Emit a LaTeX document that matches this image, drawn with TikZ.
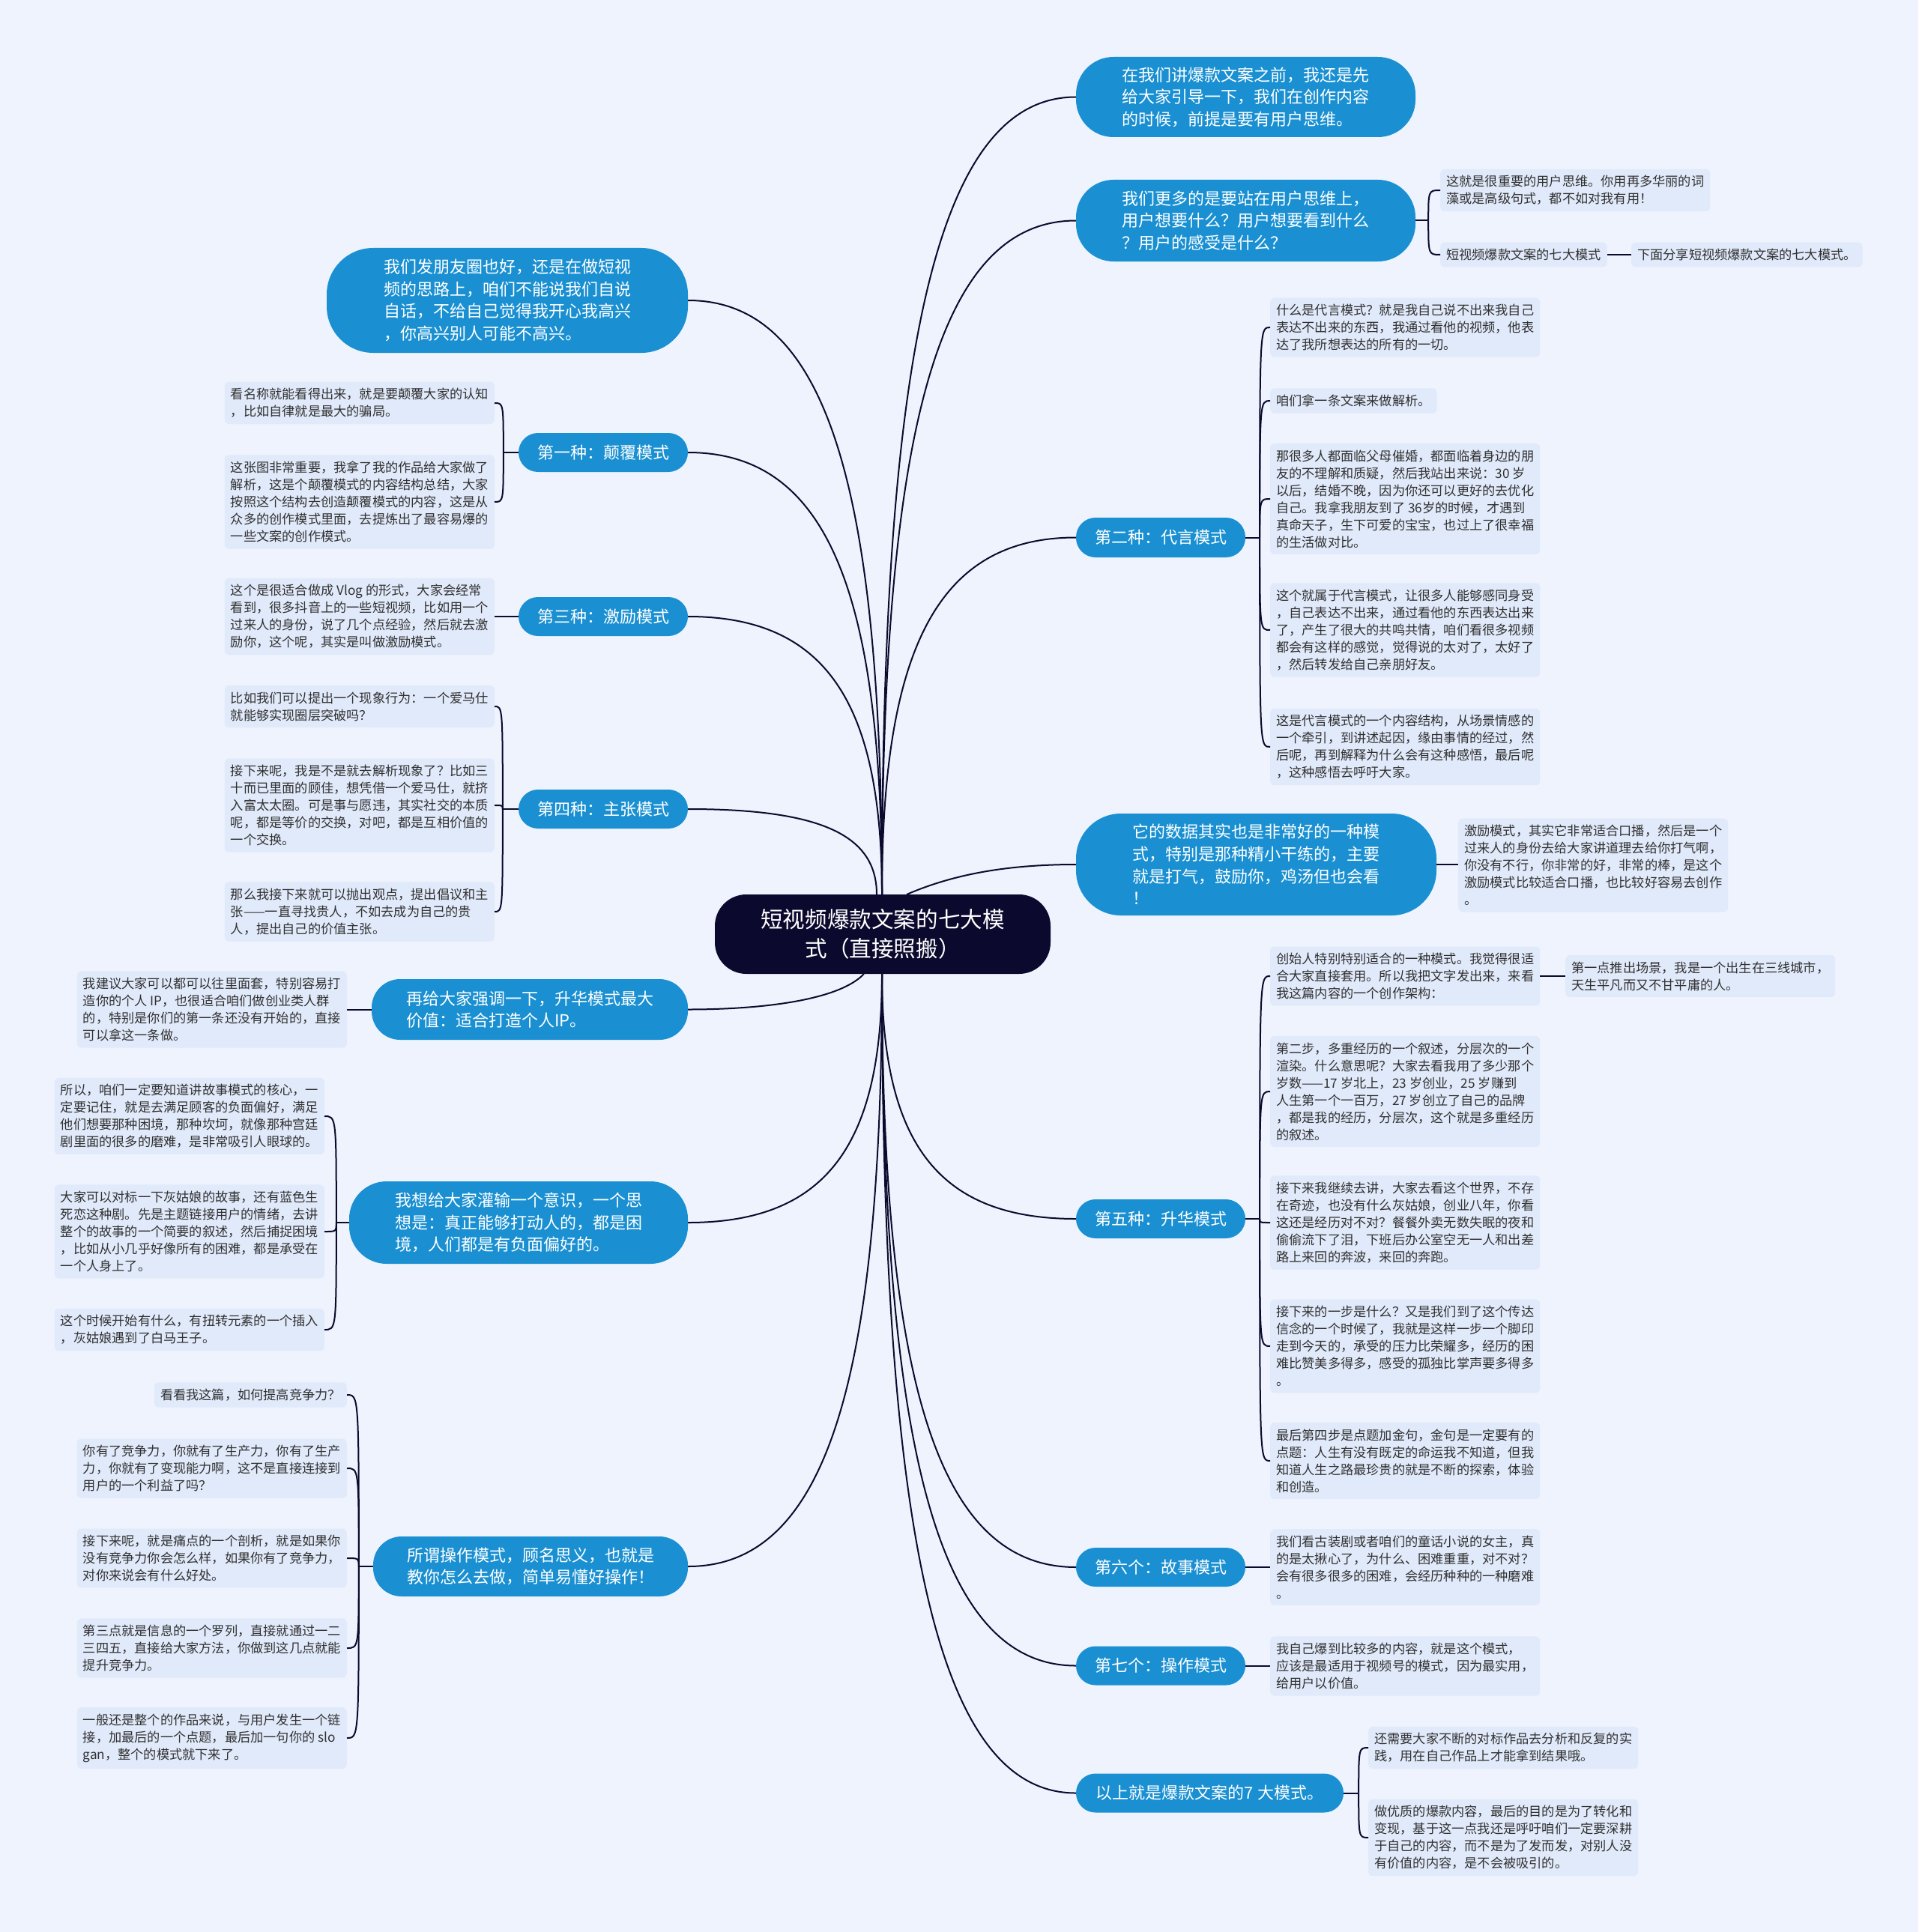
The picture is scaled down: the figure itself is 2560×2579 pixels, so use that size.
\documentclass[tikz,border=0pt]{standalone}
\usepackage{fontspec}
\setmainfont{Noto Sans CJK SC}
\usetikzlibrary{calc}
\definecolor{bgc}{HTML}{EEF3FD}
\definecolor{leaffill}{HTML}{E1EAFA}
\definecolor{mainblue}{HTML}{1A90D2}
\definecolor{navy}{HTML}{0B0A2E}
\definecolor{leaftext}{HTML}{303030}
\newcommand\mmconn[2]{\draw[conn] (#1) .. controls ($(#1)!0.7!(#1|-#2)$) and ($(#2)!0.7!(#1|-#2)$) .. (#2);}
\newcommand\mmbrace[2]{\draw[conn] (#1) .. controls (#1|-#2) .. (#2);}
\begin{document}
\begin{tikzpicture}[x=1pt,y=-1pt,
  conn/.style={draw=navy, line width=2pt},
  topic/.style={fill=mainblue, text=white, align=left, font=\fontsize{22}{29.6}\selectfont, inner sep=0pt},
  leaf/.style={fill=leaffill, text=leaftext, align=left, font=\fontsize{17.2}{23}\selectfont, inner xsep=8pt, inner ysep=8.5pt, rounded corners=6pt},
  ]
\useasboundingbox (0,0) rectangle (2560,2579);
\fill[bgc] (0,0) rectangle (2560,2579);

% centre
\node[fill=navy, text=white, align=center, font=\fontsize{29.6}{39.5}\selectfont, minimum width=448, minimum height=106, rounded corners=42, inner sep=0pt] (c) at (1178,1247) {短视频爆款文案的七大模\\式（直接照搬）};

% right main topics
\node[topic, minimum width=453, minimum height=107, rounded corners=50] (r1) at (1662.5,129.5) {在我们讲爆款文案之前，我还是先\\给大家引导一下，我们在创作内容\\的时候，前提是要有用户思维。};
\node[topic, minimum width=453, minimum height=109, rounded corners=50] (r2) at (1662.5,294.5) {我们更多的是要站在用户思维上，\\用户想要什么？用户想要看到什么\\？用户的感受是什么？};
\node[topic, minimum width=226, minimum height=53, rounded corners=26] (r3) at (1549,717.5) {第二种：代言模式};
\node[topic, minimum width=481, minimum height=136, rounded corners=60] (r4) at (1676.5,1154) {它的数据其实也是非常好的一种模\\式，特别是那种精小干练的，主要\\就是打气，鼓励你，鸡汤但也会看\\！};
\node[topic, minimum width=226, minimum height=52, rounded corners=26] (r5) at (1549,1627) {第五种：升华模式};
\node[topic, minimum width=226, minimum height=52, rounded corners=26] (r6) at (1549,2092) {第六个：故事模式};
\node[topic, minimum width=226, minimum height=52, rounded corners=26] (r7) at (1549,2223.5) {第七个：操作模式};
\node[topic, minimum width=357, minimum height=52, rounded corners=26] (r8) at (1614.5,2393.5) {以上就是爆款文案的7 大模式。};

% left main topics
\node[topic, minimum width=482, minimum height=140, rounded corners=62] (l1) at (677,401) {我们发朋友圈也好，还是在做短视\\频的思路上，咱们不能说我们自说\\自话，不给自己觉得我开心我高兴\\，你高兴别人可能不高兴。};
\node[topic, minimum width=226, minimum height=52, rounded corners=26] (l2) at (805,604) {第一种：颠覆模式};
\node[topic, minimum width=226, minimum height=52, rounded corners=26] (l3) at (805,823) {第三种：激励模式};
\node[topic, minimum width=226, minimum height=52, rounded corners=26] (l4) at (805,1080) {第四种：主张模式};
\node[topic, minimum width=422, minimum height=81, rounded corners=38] (l5) at (707,1347.5) {再给大家强调一下，升华模式最大\\价值：适合打造个人IP。};
\node[topic, minimum width=452, minimum height=110, rounded corners=50] (l6) at (692,1632) {我想给大家灌输一个意识，一个思\\想是：真正能够打动人的，都是困\\境，人们都是有负面偏好的。};
\node[topic, minimum width=420, minimum height=80, rounded corners=38] (l7) at (708,2091) {所谓操作模式，顾名思义，也就是\\教你怎么去做，简单易懂好操作！};

% right leaves
\node[leaf, anchor=west] (r2a) at (1922,254) {这就是很重要的用户思维。你用再多华丽的词\\藻或是高级句式，都不如对我有用！};
\node[leaf, anchor=west] (r2b) at (1922,340) {短视频爆款文案的七大模式};
\node[leaf, anchor=west] (r2c) at (2177,340) {下面分享短视频爆款文案的七大模式。};

\node[leaf, anchor=west] (r3a) at (1695,437) {什么是代言模式？就是我自己说不出来我自己\\表达不出来的东西，我通过看他的视频，他表\\达了我所想表达的所有的一切。};
\node[leaf, anchor=west] (r3b) at (1695,535) {咱们拿一条文案来做解析。};
\node[leaf, anchor=west] (r3c) at (1695,666) {那很多人都面临父母催婚，都面临着身边的朋\\友的不理解和质疑，然后我站出来说：30 岁\\以后，结婚不晚，因为你还可以更好的去优化\\自己。我拿我朋友到了 36岁的时候，才遇到\\真命天子，生下可爱的宝宝，也过上了很幸福\\的生活做对比。};
\node[leaf, anchor=west] (r3d) at (1695,841) {这个就属于代言模式，让很多人能够感同身受\\，自己表达不出来，通过看他的东西表达出来\\了，产生了很大的共鸣共情，咱们看很多视频\\都会有这样的感觉，觉得说的太对了，太好了\\，然后转发给自己亲朋好友。};
\node[leaf, anchor=west] (r3e) at (1695,997) {这是代言模式的一个内容结构，从场景情感的\\一个牵引，到讲述起因，缘由事情的经过，然\\后呢，再到解释为什么会有这种感悟，最后呢\\，这种感悟去呼吁大家。};

\node[leaf, anchor=west] (r4l) at (1946,1155) {激励模式，其实它非常适合口播，然后是一个\\过来人的身份去给大家讲道理去给你打气啊，\\你没有不行，你非常的好，非常的棒，是这个\\激励模式比较适合口播，也比较好容易去创作\\。};

\node[leaf, anchor=west] (r5a) at (1695,1303) {创始人特别特别适合的一种模式。我觉得很适\\合大家直接套用。所以我把文字发出来，来看\\我这篇内容的一个创作架构：};
\node[leaf, anchor=west] (r5a1) at (2089,1303) {第一点推出场景，我是一个出生在三线城市，\\天生平凡而又不甘平庸的人。};
\node[leaf, anchor=west] (r5b) at (1695,1457) {第二步，多重经历的一个叙述，分层次的一个\\渲染。什么意思呢？大家去看我用了多少那个\\岁数——17 岁北上，23 岁创业，25 岁赚到\\人生第一个一百万，27 岁创立了自己的品牌\\，都是我的经历，分层次，这个就是多重经历\\的叙述。};
\node[leaf, anchor=west] (r5c) at (1695,1632) {接下来我继续去讲，大家去看这个世界，不存\\在奇迹，也没有什么灰姑娘，创业八年，你看\\这还是经历对不对？餐餐外卖无数失眠的夜和\\偷偷流下了泪，下班后办公室空无一人和出差\\路上来回的奔波，来回的奔跑。};
\node[leaf, anchor=west] (r5d) at (1695,1797) {接下来的一步是什么？又是我们到了这个传达\\信念的一个时候了，我就是这样一步一个脚印\\走到今天的，承受的压力比荣耀多，经历的困\\难比赞美多得多，感受的孤独比掌声要多得多\\。};
\node[leaf, anchor=west] (r5e) at (1695,1950) {最后第四步是点题加金句，金句是一定要有的\\点题：人生有没有既定的命运我不知道，但我\\知道人生之路最珍贵的就是不断的探索，体验\\和创造。};

\node[leaf, anchor=west] (r6l) at (1695,2092) {我们看古装剧或者咱们的童话小说的女主，真\\的是太揪心了，为什么、困难重重，对不对？\\会有很多很多的困难，会经历种种的一种磨难\\。};
\node[leaf, anchor=west] (r7l) at (1695,2224) {我自己爆到比较多的内容，就是这个模式，\\应该是最适用于视频号的模式，因为最实用，\\给用户以价值。};
\node[leaf, anchor=west] (r8a) at (1826,2333) {还需要大家不断的对标作品去分析和反复的实\\践，用在自己作品上才能拿到结果哦。};
\node[leaf, anchor=west] (r8b) at (1826,2453) {做优质的爆款内容，最后的目的是为了转化和\\变现，基于这一点我还是呼吁咱们一定要深耕\\于自己的内容，而不是为了发而发，对别人没\\有价值的内容，是不会被吸引的。};

% left leaves
\node[leaf, anchor=east] (l2a) at (660,538) {看名称就能看得出来，就是要颠覆大家的认知\\，比如自律就是最大的骗局。};
\node[leaf, anchor=east] (l2b) at (660,670) {这张图非常重要，我拿了我的作品给大家做了\\解析，这是个颠覆模式的内容结构总结，大家\\按照这个结构去创造颠覆模式的内容，这是从\\众多的创作模式里面，去提炼出了最容易爆的\\一些文案的创作模式。};
\node[leaf, anchor=east] (l3l) at (660,823) {这个是很适合做成 Vlog 的形式，大家会经常\\看到，很多抖音上的一些短视频，比如用一个\\过来人的身份，说了几个点经验，然后就去激\\励你，这个呢，其实是叫做激励模式。};
\node[leaf, anchor=east] (l4a) at (660,943) {比如我们可以提出一个现象行为：一个爱马仕\\就能够实现圈层突破吗？};
\node[leaf, anchor=east] (l4b) at (660,1075) {接下来呢，我是不是就去解析现象了？比如三\\十而已里面的顾佳，想凭借一个爱马仕，就挤\\入富太太圈。可是事与愿违，其实社交的本质\\呢，都是等价的交换，对吧，都是互相价值的\\一个交换。};
\node[leaf, anchor=east] (l4c) at (660,1217) {那么我接下来就可以抛出观点，提出倡议和主\\张——一直寻找贵人，不如去成为自己的贵\\人，提出自己的价值主张。};
\node[leaf, anchor=east] (l5l) at (463,1347.5) {我建议大家可以都可以往里面套，特别容易打\\造你的个人 IP，也很适合咱们做创业类人群\\的，特别是你们的第一条还没有开始的，直接\\可以拿这一条做。};
\node[leaf, anchor=east] (l6a) at (433,1490) {所以，咱们一定要知道讲故事模式的核心，一\\定要记住，就是去满足顾客的负面偏好，满足\\他们想要那种困境，那种坎坷，就像那种宫廷\\剧里面的很多的磨难，是非常吸引人眼球的。};
\node[leaf, anchor=east] (l6b) at (433,1644) {大家可以对标一下灰姑娘的故事，还有蓝色生\\死恋这种剧。先是主题链接用户的情绪，去讲\\整个的故事的一个简要的叙述，然后捕捉困境\\，比如从小几乎好像所有的困难，都是承受在\\一个人身上了。};
\node[leaf, anchor=east] (l6c) at (433,1775) {这个时候开始有什么，有扭转元素的一个插入\\，灰姑娘遇到了白马王子。};
\node[leaf, anchor=east] (l7a) at (463,1862) {看看我这篇，如何提高竞争力？};
\node[leaf, anchor=east] (l7b) at (463,1960) {你有了竞争力，你就有了生产力，你有了生产\\力，你就有了变现能力啊，这不是直接连接到\\用户的一个利益了吗？};
\node[leaf, anchor=east] (l7c) at (463,2080) {接下来呢，就是痛点的一个剖析，就是如果你\\没有竞争力你会怎么样，如果你有了竞争力，\\对你来说会有什么好处。};
\node[leaf, anchor=east] (l7d) at (463,2200) {第三点就是信息的一个罗列，直接就通过一二\\三四五，直接给大家方法，你做到这几点就能\\提升竞争力。};
\node[leaf, anchor=east] (l7e) at (463,2320) {一般还是整个的作品来说，与用户发生一个链\\接，加最后的一个点题，最后加一句你的 slo\\gan，整个的模式就下来了。};

% connector start points on the centre node
\coordinate (ct) at (1177,1194);
\coordinate (cb) at (1177,1300);
\coordinate (ctr) at (1210,1194);
\coordinate (ctl) at (1170,1194);
\coordinate (cbl) at (1153,1300);

% centre to main topics
\mmconn{ct}{r1.west}
\mmconn{ct}{r2.west}
\mmconn{ct}{r3.west}
\draw[conn] (ctr) .. controls ($(ctr)+(60,-26)$) and ($(r4.west)+(-95,0)$) .. (r4.west);
\mmconn{cb}{r5.west}
\mmconn{cb}{r6.west}
\mmconn{cb}{r7.west}
\mmconn{cb}{r8.west}
\mmconn{ct}{l1.east}
\mmconn{ct}{l2.east}
\mmconn{ct}{l3.east}
\mmconn{ctl}{l4.east}
\draw[conn] (cbl) .. controls ($(cbl)+(-33,35)$) and ($(l5.east)+(100,0)$) .. (l5.east);
\mmconn{cb}{l6.east}
\mmconn{cb}{l7.east}

% braces and single links, right
\coordinate (b2) at ($(r2.east)+(17,0)$);
\draw[conn] (r2.east) -- (b2);
\mmbrace{b2}{r2a.west}
\mmbrace{b2}{r2b.west}
\draw[conn] (r2b.east) -- (r2b.east -| r2c.west);

\coordinate (b3) at ($(r3.east)+(19,0)$);
\draw[conn] (r3.east) -- (b3);
\mmbrace{b3}{r3a.west}
\mmbrace{b3}{r3b.west}
\mmbrace{b3}{r3c.west}
\mmbrace{b3}{r3d.west}
\mmbrace{b3}{r3e.west}

\draw[conn] (r4.east) -- (r4.east -| r4l.west);

\coordinate (b5) at ($(r5.east)+(19,0)$);
\draw[conn] (r5.east) -- (b5);
\mmbrace{b5}{r5a.west}
\mmbrace{b5}{r5b.west}
\mmbrace{b5}{r5c.west}
\mmbrace{b5}{r5d.west}
\mmbrace{b5}{r5e.west}
\draw[conn] (r5a.east) -- (r5a1.west);

\draw[conn] (r6.east) -- (r6.east -| r6l.west);
\draw[conn] (r7.east) -- (r7.east -| r7l.west);

\coordinate (b8) at ($(r8.east)+(20,0)$);
\draw[conn] (r8.east) -- (b8);
\mmbrace{b8}{r8a.west}
\mmbrace{b8}{r8b.west}

% braces and single links, left
\coordinate (bl2) at ($(l2.west)+(-20,0)$);
\draw[conn] (l2.west) -- (bl2);
\mmbrace{bl2}{l2a.east}
\mmbrace{bl2}{l2b.east}

\draw[conn] (l3.west) -- (l3.west -| l3l.east);

\coordinate (bl4) at ($(l4.west)+(-21,0)$);
\draw[conn] (l4.west) -- (bl4);
\mmbrace{bl4}{l4a.east}
\mmbrace{bl4}{l4b.east}
\mmbrace{bl4}{l4c.east}

\draw[conn] (l5.west) -- (l5.west -| l5l.east);

\coordinate (bl6) at ($(l6.west)+(-17,0)$);
\draw[conn] (l6.west) -- (bl6);
\mmbrace{bl6}{l6a.east}
\mmbrace{bl6}{l6b.east}
\mmbrace{bl6}{l6c.east}

\coordinate (bl7) at ($(l7.west)+(-19,0)$);
\draw[conn] (l7.west) -- (bl7);
\mmbrace{bl7}{l7a.east}
\mmbrace{bl7}{l7b.east}
\mmbrace{bl7}{l7c.east}
\mmbrace{bl7}{l7d.east}
\mmbrace{bl7}{l7e.east}
\end{tikzpicture}
\end{document}
